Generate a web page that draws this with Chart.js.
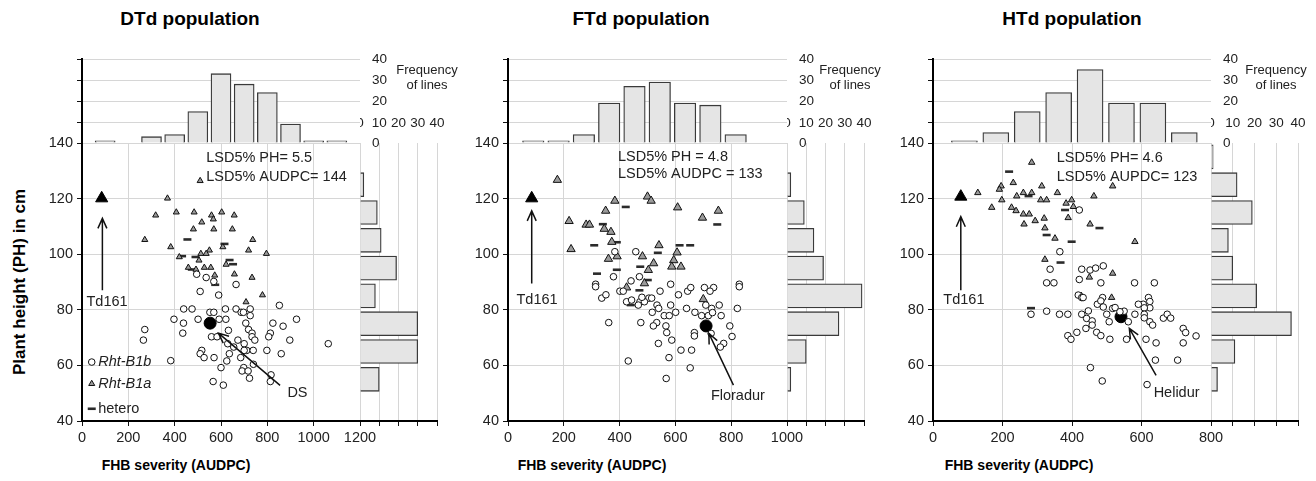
<!DOCTYPE html>
<html>
<head>
<meta charset="utf-8">
<script src="https://cdn.jsdelivr.net/npm/chart.js"></script>
<style>
  body { margin: 0; background: #fff; }
  #fig { position: relative; width: 1316px; height: 481px; overflow: hidden; font-family: "Liberation Sans", Arial, sans-serif; }
  #fig canvas { position: absolute; }
  .t { position: absolute; white-space: nowrap; color: #111; transform: translate(-50%, -50%); }
</style>
</head>
<body>
<div id="fig"></div>
<script>
// ---- data: [AUDPC, plant height] per line ----
const dtdRhtB1b = [[495,92.8],[536,91.6],[569,90.2],[665,89.1],[510,86.6],[590,85.3],[852,81.6],[439,80.3],[475,80.3],[552,79.1],[569,79.1],[619,80.3],[665,80.3],[687,79.1],[697,79.1],[726,80.3],[726,77.9],[397,76.6],[438,75.2],[501,76.6],[592,76.6],[621,76.6],[707,75.2],[824,75.2],[868,74.1],[926,76.6],[271,72.9],[265,69.1],[435,71.6],[559,70.3],[583,70.3],[632,72.6],[719,72.9],[734,71.6],[734,70.3],[746,69.1],[813,71.6],[806,70.3],[897,69.1],[1063,67.8],[629,67.8],[655,66.6],[673,69.1],[700,67.8],[711,65.4],[700,65.4],[739,65.4],[798,65.4],[860,64.2],[517,65.4],[510,64.2],[527,62.8],[570,62.8],[625,61.6],[636,64.2],[685,62.8],[740,60.4],[383,61.7],[600,59.2],[698,59.2],[691,58],[717,58],[816,56.6],[723,55.4],[813,54.2],[566,54.2],[610,52.9]];
const dtdRhtB1a = [[510,126.4],[369,120.1],[318,114],[407,115.1],[484,115.1],[559,114],[567,112.6],[603,115.1],[657,114],[517,111.5],[481,109],[569,109],[649,109],[271,105.2],[737,105.2],[383,102.6],[608,102.6],[719,101.4],[796,100.2],[550,101.4],[536,100.2],[513,100.2],[420,99],[505,97.8],[459,95.2],[492,94.5],[528,95.2],[556,95.2],[573,92.4],[658,92.8],[734,91.6],[622,96.3],[779,85.3],[708,82.8]];
const dtdHetero = [[455,105.3],[432,99.3],[490,99],[615,103.7],[637,97.9],[652,96.4],[575,89],[474,94.5]];

const ftdRhtB1b = [[314,89.2],[314,88.3],[378,91.9],[441,90.4],[471,91.9],[336,84.2],[351,85.4],[401,86.7],[413,86.7],[545,86.7],[583,89.2],[611,85.4],[644,86.7],[655,88],[704,88],[737,88],[724,86.7],[829,89.2],[829,88.3],[425,82.9],[473,82.9],[505,84.2],[515,84.2],[489,82.9],[467,81.7],[534,81.7],[540,80.5],[517,79.1],[583,81.7],[560,77.9],[578,77.9],[601,79.1],[640,80.5],[670,79.1],[694,77.9],[718,77.9],[709,81.7],[730,80.5],[757,81.7],[733,79],[764,77.9],[822,80.5],[361,75.4],[476,75.4],[533,75.4],[521,74.2],[566,74.2],[569,71.8],[668,71.8],[668,70.6],[795,74.2],[803,70.4],[539,67.9],[587,69.1],[620,65.5],[658,65.5],[728,71.5],[773,67.9],[761,66.6],[577,62.8],[431,61.6],[653,59.1],[567,55.3],[383,100.9],[458,100.9],[480,84.5],[443,83.5]];
const ftdRhtB1a = [[177,126.7],[383,119.2],[500,120.7],[513,119.2],[608,116.8],[350,115.6],[219,111.9],[280,110.6],[292,110.6],[345,109.1],[369,108],[697,113.1],[754,115.6],[226,101.8],[372,104.4],[541,103.2],[606,100.6],[360,98.3],[391,99.2],[482,99.2],[522,96.7],[594,97.8],[587,95.5],[620,95.5],[503,94.3],[489,89.5],[425,88],[700,83.8]];
const ftdHetero = [[422,117],[340,110.8],[750,110.7],[309,103.2],[390,104.3],[615,103.2],[653,103.2],[537,100.5],[390,94.4],[474,95.5],[501,90.7],[319,93],[471,87],[440,81.7]];

const htdRhtB1b = [[421,115.9],[365,100.9],[337,94.6],[428,94.6],[452,94.3],[468,95],[490,95.8],[421,90.9],[327,89.7],[348,89.7],[483,89.7],[580,89.7],[637,89.7],[418,85.3],[428,84.4],[432,84.4],[488,84.4],[473,82],[483,83.2],[620,84.4],[624,83],[605,82],[591,82],[624,80.7],[608,80.7],[517,80.5],[500,78.4],[490,81],[550,79.5],[562,75.7],[581,78.4],[608,78.4],[608,77.1],[624,75.7],[632,74.5],[663,77],[674,78.4],[684,77],[720,73.3],[727,71.8],[720,68.1],[757,70.6],[282,78.4],[327,79.5],[364,78.4],[388,78.4],[428,78.4],[442,76.9],[447,79.6],[458,76],[458,74.5],[440,73.3],[414,71.9],[388,70.7],[397,69.4],[471,71.9],[483,70.7],[509,69.4],[507,75.7],[557,69.4],[613,69.4],[642,68.1],[640,61.9],[704,61.9],[453,59.2],[487,54.4],[616,53.1],[524,80.8],[538,79.3]];
const htdRhtB1a = [[284,133],[196,124.5],[191,123.3],[231,125.7],[313,124.5],[517,124.5],[129,122.1],[260,122.1],[284,122.1],[241,120.9],[198,119.5],[310,119.5],[327,119.5],[358,122.1],[463,120.9],[169,116.8],[226,116.8],[239,115.6],[260,114.4],[277,114.4],[383,118.3],[399,119.5],[404,117.1],[320,112.9],[294,112],[262,110.8],[389,113.1],[322,109.4],[452,110.8],[351,105.7],[581,104.5],[322,98.1],[450,91.7],[517,93.1],[427,85],[514,84.4]];
const htdHetero = [[219,129.7],[275,120.9],[380,115.9],[479,109.4],[327,106.9],[399,104.5],[367,97],[282,80.6]];

// parents: [AUDPC, PH]
const td161 = { dtd: [85,120.1], ftd: [85,120.1], htd: [80,120.7] };
const checks = { dtd: [553,75.2], ftd: [710,74.2], htd: [541,77.5] };

// frequency of lines per AUDPC class (top histograms)
const dtdAudpcClass = [100,300,400,500,600,700,800,900,1000,1100];
const dtdAudpcLines = [1,3,4,15,33,28,24,9,1,1];
const ftdAudpcClass = [100,200,300,400,500,600,700,800,900];
const ftdAudpcLines = [1,1,4,19,27,29,19,18,4];
const htdAudpcClass = [100,200,300,400,500,600,700,800];
const htdAudpcLines = [1,5,15,24,35,19,19,5];

// frequency of lines per plant height class (side histograms)
const dtdPhClass = [55,65,75,85,95,105,115,125];
const dtdPhLines = [10,30,30,8,19,11,9,2];
const ftdPhClass = [55,65,75,85,95,105,115,125];
const ftdPhLines = [2,10,27,39,19,14,9,2];
const htdPhClass = [55,65,75,85,95,105,115,125,135];
const htdPhLines = [3,11,37,21,10,8,19,12,1];

// ---- layout ----
const T = 143, B = 421, TT = 59;
const GRID = '#d6d6d6', INK = '#111', TXT = '#222';
const FONT = '"Liberation Sans", Arial, sans-serif';
Chart.defaults.font.family = FONT;
Chart.defaults.color = TXT;

const fig = document.getElementById('fig');

const panels = [
  { key: 'dtd', title: 'DTd population', titleX: 190, xTitleX: 176, freqX: 427,
    L: 82, R: 360, RH: 437, xMax: 1200, topMax: 1200, topBar: 20, triR: 3.5,
    b1b: dtdRhtB1b, b1a: dtdRhtB1a, het: dtdHetero, td: td161.dtd, check: checks.dtd,
    topClass: dtdAudpcClass, topLines: dtdAudpcLines, phClass: dtdPhClass, phLines: dtdPhLines,
    lsd: ['LSD5% PH= 5.5', 'LSD5% AUDPC= 144'], lsdAt: [536, 134.6, 127.7],
    tdArrow: [88, 87, 112.9], tdLabel: [108, 82.8],
    cv: 'DS', cvLabel: [930, 50.2], cvArrow: [855, 52.8, 589, 71.6], legend: true },
  { key: 'ftd', title: 'FTd population', titleX: 641, xTitleX: 592, freqX: 850,
    L: 508, R: 787, RH: 864, xMax: 1000, topMax: 1103, topBar: 21.5, triR: 4.8,
    b1b: ftdRhtB1b, b1a: ftdRhtB1a, het: ftdHetero, td: td161.ftd, check: checks.ftd,
    topClass: ftdAudpcClass, topLines: ftdAudpcLines, phClass: ftdPhClass, phLines: ftdPhLines,
    lsd: ['LSD5% PH = 4.8', 'LSD5% AUDPC = 133'], lsdAt: [394, 135.1, 128.7],
    tdArrow: [85, 89.5, 115.6], tdLabel: [104, 83.5],
    cv: 'Floradur', cvLabel: [824, 48.9], cvArrow: [808, 52.9, 720, 71.5], legend: false },
  { key: 'htd', title: 'HTd population', titleX: 1072, xTitleX: 1019, freqX: 1276,
    L: 933, R: 1211, RH: 1298, xMax: 800, topMax: 885, topBar: 26, triR: 3.7,
    b1b: htdRhtB1b, b1a: htdRhtB1a, het: htdHetero, td: td161.htd, check: checks.htd,
    topClass: htdAudpcClass, topLines: htdAudpcLines, phClass: htdPhClass, phLines: htdPhLines,
    lsd: ['LSD5% PH= 4.6', 'LSD5% AUPDC= 123'], lsdAt: [356, 134.5, 127.9],
    tdArrow: [80, 87, 113.5], tdLabel: [89, 83.5],
    cv: 'Helidur', cvLabel: [701, 50.1], cvArrow: [642, 56.4, 565, 73.3], legend: false }
];

function pts(a) { return a.map(([x, y]) => ({ x, y })); }
const plain = v => String(v);

function canvasAt(left, top, w, h) {
  const c = document.createElement('canvas');
  c.width = w; c.height = h;
  c.style.left = left + 'px'; c.style.top = top + 'px';
  c.style.width = w + 'px'; c.style.height = h + 'px';
  fig.appendChild(c);
  return c;
}

function text(str, x, y, css) {
  const d = document.createElement('div');
  d.className = 't';
  d.textContent = str;
  d.style.left = x + 'px';
  d.style.top = y + 'px';
  Object.assign(d.style, css || {});
  fig.appendChild(d);
  return d;
}

function arrow(ctx, x0, y0, x1, y1, h) {
  const a = Math.atan2(y1 - y0, x1 - x0), w = 0.42;
  ctx.beginPath();
  ctx.moveTo(x0, y0); ctx.lineTo(x1, y1);
  ctx.moveTo(x1 - h * Math.cos(a - w), y1 - h * Math.sin(a - w));
  ctx.lineTo(x1, y1);
  ctx.lineTo(x1 - h * Math.cos(a + w), y1 - h * Math.sin(a + w));
  ctx.stroke();
}

// no extra room for first/last labels: keeps every chart area on its pixel box
function fixBox(size, key) {
  return s => {
    s[key] = size;
    s.paddingLeft = 0; s.paddingRight = 0; s.paddingTop = 0; s.paddingBottom = 0;
  };
}

function notes(p) {
  return {
    id: 'notes',
    afterDatasetsDraw(chart) {
      const ctx = chart.ctx, sx = chart.scales.x, sy = chart.scales.y;
      const X = v => sx.getPixelForValue(v), Y = v => sy.getPixelForValue(v);
      ctx.save();
      ctx.fillStyle = TXT;
      ctx.strokeStyle = INK;
      ctx.lineWidth = 1.5;
      ctx.font = '14.5px ' + FONT;
      ctx.textBaseline = 'middle';
      ctx.textAlign = 'left';
      ctx.fillText(p.lsd[0], X(p.lsdAt[0]), Y(p.lsdAt[1]));
      ctx.fillText(p.lsd[1], X(p.lsdAt[0]), Y(p.lsdAt[2]));
      ctx.textAlign = 'center';
      ctx.fillText('Td161', X(p.tdLabel[0]), Y(p.tdLabel[1]));
      ctx.fillText(p.cv, X(p.cvLabel[0]), Y(p.cvLabel[1]));
      arrow(ctx, X(p.tdArrow[0]), Y(p.tdArrow[1]), X(p.tdArrow[0]), Y(p.tdArrow[2]), 11);
      arrow(ctx, X(p.cvArrow[0]), Y(p.cvArrow[1]), X(p.cvArrow[2]), Y(p.cvArrow[3]), 11);

      if (p.legend) {
        const mx = X(42), tx = X(70);
        // Rht-B1b
        let y = Y(61.2);
        ctx.beginPath(); ctx.arc(mx, y, 3.3, 0, Math.PI * 2);
        ctx.fillStyle = '#fff'; ctx.fill(); ctx.lineWidth = 1; ctx.stroke();
        // Rht-B1a
        y = Y(53.4);
        ctx.beginPath();
        for (let k = 0; k < 3; k++) {
          const a = k * 2 * Math.PI / 3;
          const px = mx + Math.sin(a) * 3.5, py = y - Math.cos(a) * 3.5;
          k ? ctx.lineTo(px, py) : ctx.moveTo(px, py);
        }
        ctx.closePath(); ctx.fillStyle = '#9b9b9b'; ctx.fill(); ctx.stroke();
        // hetero
        y = Y(44.4);
        ctx.beginPath(); ctx.moveTo(mx - 4, y); ctx.lineTo(mx + 4, y);
        ctx.lineWidth = 2.6; ctx.strokeStyle = '#2b2b2b'; ctx.stroke();

        ctx.fillStyle = TXT;
        ctx.textAlign = 'left';
        ctx.font = 'italic 14.5px ' + FONT;
        ctx.fillText('Rht-B1b', tx, Y(61.2));
        ctx.fillText('Rht-B1a', tx, Y(53.4));
        ctx.font = '14.5px ' + FONT;
        ctx.fillText('hetero', tx, Y(44.4));
      }
      ctx.restore();
    }
  };
}

const common = {
  responsive: false, animation: false, events: [], devicePixelRatio: 1,
  plugins: { legend: { display: false }, tooltip: { enabled: false } }
};

function scatterPanel(p) {
  const padL = 48, padT = 12, padR = 18, axB = 26;
  const c = canvasAt(p.L - padL, T - padT, p.R - p.L + padL + padR, B - T + padT + axB);
  new Chart(c, {
    type: 'scatter',
    data: {
      datasets: [
        { data: pts(p.b1b), pointStyle: 'circle', pointRadius: 3.3, pointBackgroundColor: '#fff', pointBorderColor: INK, pointBorderWidth: 1 },
        { data: pts(p.b1a), pointStyle: 'triangle', pointRadius: p.triR, pointBackgroundColor: '#9b9b9b', pointBorderColor: INK, pointBorderWidth: 1 },
        { data: pts(p.het), pointStyle: 'line', pointRadius: 4, pointBorderColor: '#2b2b2b', pointBorderWidth: 2.6 },
        { data: pts([p.check]), pointStyle: 'circle', pointRadius: 6, pointBackgroundColor: '#000', pointBorderColor: '#000' },
        { data: pts([p.td]), pointStyle: 'triangle', pointRadius: 7, pointBackgroundColor: '#000', pointBorderColor: '#000' }
      ]
    },
    options: {
      ...common,
      layout: { padding: { left: 0, top: padT, right: padR, bottom: 0 } },
      scales: {
        x: {
          type: 'linear', min: 0, max: p.xMax,
          ticks: { stepSize: 200, padding: 3, autoSkip: false, maxRotation: 0, minRotation: 0, callback: plain, font: { size: 14.5 } },
          grid: { color: GRID, tickColor: INK, tickLength: 5 },
          border: { color: '#000', width: 2 },
          afterFit: fixBox(axB, 'height')
        },
        y: {
          type: 'linear', min: 40, max: 140,
          ticks: { stepSize: 20, padding: 4, autoSkip: false, font: { size: 14.5 } },
          grid: { color: GRID, tickColor: INK, tickLength: 5 },
          border: { color: '#000', width: 2 },
          afterFit: fixBox(padL, 'width')
        }
      }
    },
    plugins: [notes(p)]
  });
}

function topHist(p) {
  const padL = 12, padR = 44, padT = 8, padB = 10;
  const c = canvasAt(p.L - padL, TT - padT, p.R - p.L + padL + padR, T - TT + padT + padB);
  new Chart(c, {
    type: 'bar',
    data: {
      datasets: [{
        data: p.topClass.map((x, i) => ({ x, y: p.topLines[i] })),
        backgroundColor: '#e5e5e5', borderColor: '#3a3a3a', borderWidth: 1.3,
        barThickness: p.topBar
      }]
    },
    options: {
      ...common,
      layout: { padding: { left: 0, top: padT, right: 0, bottom: padB } },
      scales: {
        x: { type: 'linear', min: 0, max: p.topMax, offset: false, display: false },
        y: {
          min: 0, max: 40,
          ticks: { display: false, stepSize: 10, autoSkip: false },
          grid: { color: GRID, tickColor: INK, tickLength: 5 },
          border: { color: '#000', width: 2 },
          afterFit: fixBox(padL, 'width')
        },
        yr: {
          position: 'right', min: 0, max: 40,
          // the "10" is shared with the side histogram's top labels
          ticks: { stepSize: 10, padding: 12, autoSkip: false, callback: v => (v === 10 ? '' : String(v)), font: { size: 13.5 } },
          grid: { display: false, drawTicks: false },
          border: { display: false },
          afterFit: fixBox(padR, 'width')
        }
      }
    }
  });
}

function sideHist(p) {
  const padTop = 32, padB = 12, padR = 14;
  const c = canvasAt(p.R, T - padTop, p.RH - p.R + padR, B - T + padTop + padB);
  new Chart(c, {
    type: 'bar',
    data: {
      datasets: [{
        data: p.phClass.map((y, i) => ({ y, x: p.phLines[i] })),
        xAxisID: 'x', yAxisID: 'y',
        backgroundColor: '#e5e5e5', borderColor: '#3a3a3a', borderWidth: 1.3,
        barThickness: 24
      }]
    },
    options: {
      ...common,
      indexAxis: 'y',
      layout: { padding: { left: 0, top: 0, right: padR, bottom: 0 } },
      scales: {
        x: {
          type: 'linear', position: 'bottom', min: 0, max: 40,
          ticks: { display: false, stepSize: 10, autoSkip: false },
          grid: { color: GRID, tickColor: INK, tickLength: 5 },
          border: { color: '#000', width: 2 },
          afterFit: fixBox(padB, 'height')
        },
        xt: {
          type: 'linear', position: 'top', min: 0, max: 40,
          ticks: { stepSize: 10, padding: 12, autoSkip: false, maxRotation: 0, minRotation: 0, font: { size: 13.5 } },
          grid: { display: false, drawTicks: false },
          border: { display: false },
          afterFit: fixBox(padTop, 'height')
        },
        y: { type: 'linear', min: 40, max: 140, offset: false, display: false }
      }
    }
  });
}

panels.forEach(p => {
  scatterPanel(p);
  topHist(p);
  sideHist(p);
  text(p.title, p.titleX, 19, { fontWeight: 'bold', fontSize: '19px', color: '#000' });
  text('FHB severity (AUDPC)', p.xTitleX, 465, { fontWeight: 'bold', fontSize: '14px', color: '#000' });
  text('Frequency', p.freqX, 69, { fontSize: '13px', color: TXT });
  text('of lines', p.freqX, 84, { fontSize: '13px', color: TXT });
});
text('Plant height (PH) in cm', 20, 282, { fontWeight: 'bold', fontSize: '17px', color: '#000', transform: 'translate(-50%, -50%) rotate(-90deg)' });
</script>
</body>
</html>
